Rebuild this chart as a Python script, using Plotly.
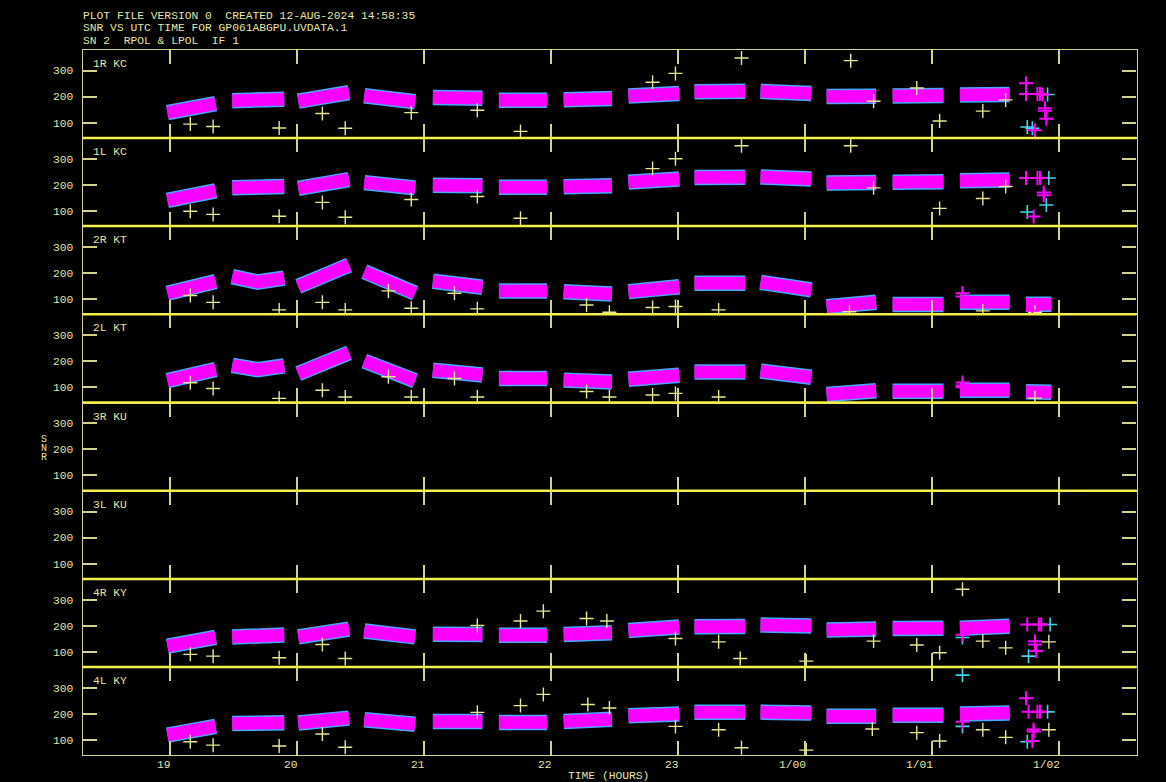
import plotly.graph_objects as go

# ---------------- data ----------------
HOUR_TICKS = [19, 20, 21, 22, 23, 24, 25, 26]
HOUR_LABELS = ["19", "20", "21", "22", "23", "1/00", "1/01", "1/02"]
PANEL_NAMES = ["1R KC", "1L KC", "2R KT", "2L KT", "3R KU", "3L KU", "4R KY", "4L KY"]

# scan times (start, middle, end) in hours
SCAN_T = [
    [18.98, 19.17, 19.36], [19.49, 19.69, 19.90], [20.01, 20.21, 20.41],
    [20.53, 20.73, 20.93], [21.07, 21.26, 21.46], [21.59, 21.78, 21.97],
    [22.10, 22.29, 22.48], [22.61, 22.81, 23.01], [23.13, 23.33, 23.53],
    [23.65, 23.85, 24.05], [24.17, 24.37, 24.56], [24.69, 24.89, 25.09],
    [25.22, 25.41, 25.61], [25.74, 25.84, 25.94],
]

# SNR of the dense scan clusters (start, middle, end) per panel
snr_1r_kc = [[138, 158, 173], [184, 187, 190], [182, 200, 215], [203, 192, 180], [196, 195, 193],
             [186, 186, 186], [188, 190, 192], [202, 207, 212], [218, 219, 220], [220, 216, 212],
             [200, 200, 201], [202, 204, 204], [206, 207, 208], None]
snr_1l_kc = [[140, 160, 176], [188, 190, 193], [186, 205, 220], [208, 197, 188], [198, 197, 196],
             [190, 190, 190], [192, 194, 196], [210, 215, 222], [228, 229, 229], [230, 226, 222],
             [207, 208, 209], [210, 210, 211], [215, 216, 218], None]
snr_2r_kt = [[122, 145, 167], [186, 165, 180], [148, 188, 230], [205, 165, 122], [168, 160, 145],
             [131, 131, 131], [128, 124, 119], [128, 137, 147], [160, 160, 160], [164, 152, 135],
             [70, 78, 87], [79, 79, 79], [87, 87, 87], [80, 81, 80]]
snr_2l_kt = [[125, 147, 168], [184, 167, 182], [152, 192, 232], [200, 162, 125], [165, 158, 147],
             [133, 133, 133], [127, 124, 120], [130, 138, 146], [158, 158, 158], [162, 150, 138],
             [72, 79, 86], [84, 84, 84], [88, 88, 88], [82, 82, 80]]
snr_3r_ku = []
snr_3l_ku = []
snr_4r_ky = [[122, 140, 155], [157, 160, 164], [157, 172, 187], [180, 168, 157], [167, 167, 166],
             [163, 163, 163], [166, 170, 173], [182, 188, 195], [196, 197, 197], [203, 201, 199],
             [184, 186, 187], [189, 190, 190], [190, 194, 198], None]
snr_4l_ky = [[119, 137, 152], [163, 165, 166], [165, 175, 184], [178, 168, 160], [171, 171, 171],
             [167, 167, 167], [171, 175, 180], [193, 197, 200], [206, 206, 206], [207, 206, 204],
             [191, 191, 191], [195, 195, 195], [200, 202, 204], None]

# isolated yellow points
out_1r_kc_t = [19.16, 19.34, 19.86, 20.20, 20.38, 20.90, 21.42, 21.76, 22.80, 22.98, 23.50, 24.36, 24.54, 24.88, 25.06, 25.40, 25.58]
out_1r_kc_snr = [94, 85, 79, 135, 78, 138, 147, 66, 255, 289, 348, 338, 182, 233, 106, 144, 187]
out_1l_kc_t = [19.16, 19.34, 19.86, 20.20, 20.38, 20.90, 21.42, 21.76, 22.80, 22.98, 23.50, 24.36, 24.54, 25.06, 25.40, 25.58]
out_1l_kc_snr = [98, 86, 79, 132, 75, 143, 155, 71, 262, 300, 350, 350, 188, 109, 147, 193]
out_2r_kt_t = [19.16, 19.34, 19.86, 20.20, 20.38, 20.72, 20.90, 21.24, 21.42, 22.28, 22.46, 22.80, 22.98, 23.32, 24.35, 25.40, 25.81]
out_2r_kt_snr = [113, 87, 58, 87, 58, 131, 64, 122, 62, 77, 49, 67, 71, 58, 51, 54, 49]
out_2l_kt_t = [19.16, 19.34, 19.86, 20.20, 20.38, 20.72, 20.90, 21.24, 21.42, 22.28, 22.46, 22.80, 22.98, 23.32, 25.81]
out_2l_kt_snr = [117, 95, 57, 88, 62, 140, 62, 133, 62, 83, 62, 70, 76, 62, 58]
out_4r_ky_t = [19.16, 19.34, 19.86, 20.20, 20.38, 21.42, 21.76, 21.94, 22.28, 22.44, 22.98, 23.32, 23.49, 24.01, 24.54, 24.88, 25.06, 25.24, 25.40, 25.58, 25.92]
out_4r_ky_snr = [90, 83, 77, 128, 74, 201, 218, 256, 228, 218, 151, 138, 74, 64, 141, 126, 96, 340, 141, 115, 138]
out_4l_ky_t = [19.16, 19.34, 19.86, 20.20, 20.38, 21.42, 21.76, 21.94, 22.29, 22.46, 22.98, 23.32, 23.50, 24.01, 24.53, 24.88, 25.06, 25.40, 25.58, 25.92]
out_4l_ky_snr = [93, 80, 77, 123, 72, 206, 232, 275, 236, 223, 152, 139, 70, 61, 142, 128, 96, 139, 110, 139]

# isolated magenta and cyan points
mag_1r_kc_t = [25.74, 25.74, 25.83, 25.85, 25.87, 25.89, 25.89, 25.90, 25.81]
mag_1r_kc_snr = [251, 210, 210, 210, 208, 155, 145, 115, 70]
cya_1r_kc_t = [25.91, 25.75, 25.79]
cya_1r_kc_snr = [208, 83, 78]
mag_1l_kc_t = [25.74, 25.83, 25.85, 25.88, 25.88, 25.80]
mag_1l_kc_snr = [226, 226, 226, 170, 160, 78]
cya_1l_kc_t = [25.92, 25.90, 25.75]
cya_1l_kc_snr = [226, 122, 95]
mag_2r_kt_t = [25.24, 25.24, 25.79]
mag_2r_kt_snr = [122, 109, 55]
cya_2r_kt_t = []
cya_2r_kt_snr = []
mag_2l_kt_t = [25.24, 25.24, 25.24]
mag_2l_kt_snr = [118, 106, 100]
cya_2l_kt_t = []
cya_2l_kt_snr = []
mag_4r_ky_t = [25.75, 25.84, 25.86, 25.81, 25.81, 25.82, 25.24]
mag_4r_ky_snr = [205, 205, 205, 128, 140, 103, 165]
cya_4r_ky_t = [25.93, 25.76, 25.24]
cya_4r_ky_snr = [205, 83, 155]
mag_4l_ky_t = [25.74, 25.76, 25.83, 25.85, 25.80, 25.80, 25.79, 25.24]
mag_4l_ky_snr = [260, 208, 208, 208, 132, 140, 96, 170]
cya_4l_ky_t = [25.91, 25.75, 25.24, 25.24]
cya_4l_ky_snr = [208, 93, 152, 349]

PANELS = [
    (snr_1r_kc, out_1r_kc_t, out_1r_kc_snr, mag_1r_kc_t, mag_1r_kc_snr, cya_1r_kc_t, cya_1r_kc_snr),
    (snr_1l_kc, out_1l_kc_t, out_1l_kc_snr, mag_1l_kc_t, mag_1l_kc_snr, cya_1l_kc_t, cya_1l_kc_snr),
    (snr_2r_kt, out_2r_kt_t, out_2r_kt_snr, mag_2r_kt_t, mag_2r_kt_snr, cya_2r_kt_t, cya_2r_kt_snr),
    (snr_2l_kt, out_2l_kt_t, out_2l_kt_snr, mag_2l_kt_t, mag_2l_kt_snr, cya_2l_kt_t, cya_2l_kt_snr),
    (snr_3r_ku, [], [], [], [], [], []),
    (snr_3l_ku, [], [], [], [], [], []),
    (snr_4r_ky, out_4r_ky_t, out_4r_ky_snr, mag_4r_ky_t, mag_4r_ky_snr, cya_4r_ky_t, cya_4r_ky_snr),
    (snr_4l_ky, out_4l_ky_t, out_4l_ky_snr, mag_4l_ky_t, mag_4l_ky_snr, cya_4l_ky_t, cya_4l_ky_snr),
]

# ---------------- styling ----------------
W, H = 1166, 782
X0, X1 = 82.7, 1136.5          # plot frame in px
TOP, PH = 49.7, 88.2           # first panel top, panel height (px)
FONT = "Liberation Mono, DejaVu Sans Mono, monospace"
TXT = "#e4e4a8"
FRAME = "#d2d28a"
SEP = "#f4f04a"
MAG = "#ff00ff"
FRINGE = "#4aa6ff"
CROSS = "#e8e890"
CYAN = "#40d8e8"

fig = go.Figure()
layout = dict(
    width=W, height=H, autosize=False,
    margin=dict(l=0, r=0, t=0, b=0),
    paper_bgcolor="black", plot_bgcolor="black",
    showlegend=False,
    font=dict(family=FONT, size=11.3, color=TXT),
)

annotations = []
shapes = []

for k in range(8):
    idx = k + 1
    sfx = "" if idx == 1 else str(idx)
    top = TOP + k * PH
    bot = top + PH
    ydom = [1 - bot / H, 1 - top / H]
    xdom = [X0 / W, X1 / W]
    layout["xaxis" + sfx] = dict(
        domain=xdom, anchor="y" + sfx, range=[18.313, 26.61],
        tickvals=HOUR_TICKS, showticklabels=False,
        ticks="inside", ticklen=14, tickwidth=1.5, tickcolor=FRAME,
        showline=True, linecolor=FRAME, linewidth=1.2, mirror="allticks",
        showgrid=False, zeroline=False, fixedrange=True,
    )
    layout["yaxis" + sfx] = dict(
        domain=ydom, anchor="x" + sfx, range=[41, 380],
        tickvals=[100, 200, 300], ticktext=["100", "200", "300"],
        ticks="inside", ticklen=14, tickwidth=1.5, tickcolor=FRAME,
        tickfont=dict(family=FONT, size=11.3, color=TXT),
        ticklabelstandoff=6,
        showline=True, linecolor=FRAME, linewidth=1.2, mirror="allticks",
        showgrid=False, zeroline=False, fixedrange=True,
    )
    annotations.append(dict(
        text=PANEL_NAMES[k], x=92.7 / W, xref="paper", xanchor="left", xshift=-2,
        y=1 - (top + 14) / H, yref="paper", yanchor="middle",
        showarrow=False, font=dict(family=FONT, size=11.3, color=TXT),
    ))
    if k < 7:
        shapes.append(dict(type="line", xref="paper", yref="paper",
                           x0=X0 / W, x1=X1 / W, y0=1 - bot / H, y1=1 - bot / H,
                           line=dict(color=SEP, width=2.5)))

    snr, ot, osn, mt, ms, ct, cs = PANELS[k]
    xa, ya = "x" + sfx, "y" + sfx
    # an empty trace keeps the axes of empty panels drawn
    fig.add_trace(go.Scatter(x=[], y=[], mode="markers", xaxis=xa, yaxis=ya, hoverinfo="skip"))
    xs, ys = [], []
    for si, tri in enumerate(snr):
        if tri is None:
            continue
        xs += SCAN_T[si] + [None]
        ys += tri + [None]
    if xs:
        fig.add_trace(go.Scatter(x=xs, y=ys, mode="lines", xaxis=xa, yaxis=ya,
                                 line=dict(color=FRINGE, width=15.5), hoverinfo="skip"))
        fig.add_trace(go.Scatter(x=xs, y=ys, mode="lines", xaxis=xa, yaxis=ya,
                                 line=dict(color=MAG, width=12.5), hoverinfo="skip"))
    if ot:
        fig.add_trace(go.Scatter(x=ot, y=osn, mode="markers", xaxis=xa, yaxis=ya,
                                 marker=dict(symbol="cross-thin", size=10, color=CROSS,
                                             line=dict(color=CROSS, width=1.4))))
    if ct:
        fig.add_trace(go.Scatter(x=ct, y=cs, mode="markers", xaxis=xa, yaxis=ya,
                                 marker=dict(symbol="cross-thin", size=10, color=CYAN,
                                             line=dict(color=CYAN, width=1.6))))
    if mt:
        fig.add_trace(go.Scatter(x=mt, y=ms, mode="markers", xaxis=xa, yaxis=ya,
                                 marker=dict(symbol="cross-thin", size=10, color=MAG,
                                             line=dict(color=MAG, width=2.0))))

# x tick labels under the bottom panel
for h, lab in zip(HOUR_TICKS, HOUR_LABELS):
    annotations.append(dict(
        text=lab, x=h, xref="x8", xanchor="right", xshift=3,
        y=1 - 765 / H, yref="paper", yanchor="middle", showarrow=False,
        font=dict(family=FONT, size=11.3, color=TXT),
    ))

# axis titles
annotations.append(dict(text="TIME (HOURS)", x=609 / W, xref="paper", xanchor="center",
                        y=1 - 775.5 / H, yref="paper", yanchor="middle", showarrow=False,
                        font=dict(family=FONT, size=11.3, color=TXT)))
for ch, yy in zip("SNR", [439.7, 448.3, 457.0]):
    annotations.append(dict(text=ch, x=43.7 / W, xref="paper", xanchor="center",
                            y=1 - yy / H, yref="paper", yanchor="middle", showarrow=False,
                            font=dict(family=FONT, size=10, color=TXT)))

# header lines
HEADER = ["PLOT FILE VERSION 0  CREATED 12-AUG-2024 14:58:35",
          "SNR VS UTC TIME FOR GP061ABGPU.UVDATA.1",
          "SN 2  RPOL & LPOL  IF 1"]
for line, yy in zip(HEADER, [16.3, 28.3, 40.7]):
    annotations.append(dict(text=line.replace(" ", "&nbsp;"), x=82.7 / W, xref="paper", xanchor="left",
                            xshift=-2,
                            y=1 - yy / H, yref="paper", yanchor="middle", showarrow=False,
                            font=dict(family=FONT, size=11.3, color=TXT)))

layout["annotations"] = annotations
layout["shapes"] = shapes
fig.update_layout(**layout)

fig.write_html("out.html")
